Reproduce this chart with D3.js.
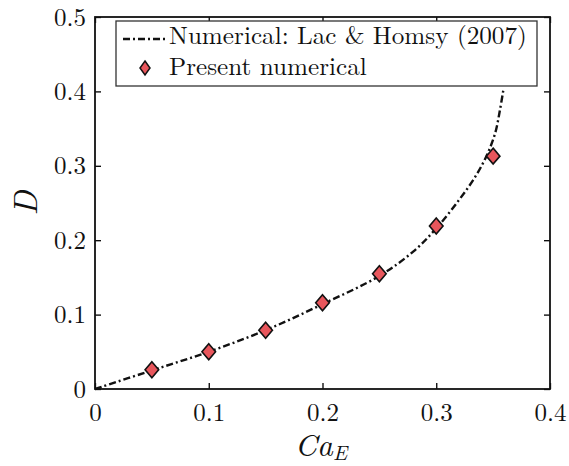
<!DOCTYPE html>
<html><head><meta charset="utf-8">
<script src="https://cdn.jsdelivr.net/npm/d3@7"></script>
<style>body{margin:0;background:#fff}svg{display:block}</style>
</head><body>
<svg id="c" width="569" height="466"></svg>
<script>
const xTicks = [0, 0.1, 0.2, 0.3, 0.4];
const yTicks = [0, 0.1, 0.2, 0.3, 0.4, 0.5];
const lineCa = [0, 0.05, 0.1, 0.15, 0.2, 0.25, 0.28, 0.3, 0.32, 0.335, 0.345, 0.352, 0.356, 0.359];
const lineD  = [0, 0.025, 0.05, 0.079, 0.114, 0.152, 0.185, 0.216, 0.254, 0.287, 0.316, 0.345, 0.375, 0.402];
const ptCa = [0.05, 0.1, 0.15, 0.2, 0.25, 0.3, 0.35];
const ptD  = [0.026, 0.05, 0.079, 0.116, 0.155, 0.219, 0.313];
const legendLabels = ["Numerical: Lac & Homsy (2007)", "Present numerical"];

const svg = d3.select("#c");
const L = 95, R = 550, T = 17, B = 389;
const x = d3.scaleLinear().domain([0, 0.4]).range([L, R]);
const y = d3.scaleLinear().domain([0, 0.5]).range([B, T]);
const font = "'Latin Modern Roman', 'Liberation Serif', serif";
const fmt = d => d === 0 ? "0" : d3.format(".1f")(d);

const ax = (g, axis) => { g.call(axis); g.select(".domain").remove(); g.selectAll("line").attr("stroke", "#000").attr("stroke-width", 1.3); g.selectAll("text").style("font-family", font).style("font-size", "25px").attr("fill", "#111"); };
svg.append("g").attr("transform", `translate(0,${B})`).call(g => ax(g, d3.axisBottom(x).tickValues(xTicks).tickFormat(fmt).tickSizeInner(-6).tickPadding(14)));
svg.append("g").attr("transform", `translate(${L},0)`).call(g => ax(g, d3.axisLeft(y).tickValues(yTicks).tickFormat(fmt).tickSizeInner(-6).tickPadding(9)));
svg.append("g").attr("transform", `translate(0,${T})`).call(g => { ax(g, d3.axisTop(x).tickValues(xTicks).tickFormat("").tickSizeInner(-6)); });
svg.append("g").attr("transform", `translate(${R},0)`).call(g => { ax(g, d3.axisRight(y).tickValues(yTicks).tickFormat("").tickSizeInner(-6)); });

svg.append("rect").attr("x", L).attr("y", T).attr("width", R - L).attr("height", B - T)
  .attr("fill", "none").attr("stroke", "#111").attr("stroke-width", 1.8);

const lineData = lineCa.map((c, i) => [c, lineD[i]]);
svg.append("path").datum(lineData)
  .attr("d", d3.line().x(d => x(d[0])).y(d => y(d[1])).curve(d3.curveCatmullRom.alpha(0.5)))
  .attr("fill", "none").attr("stroke", "#111").attr("stroke-width", 2.4)
  .attr("stroke-dasharray", "7,3,2,3");

const diamond = (w, h) => `M0,${-h}L${w},0L0,${h}L${-w},0Z`;
svg.append("g").selectAll("path").data(ptCa.map((c, i) => [c, ptD[i]])).join("path")
  .attr("transform", d => `translate(${x(d[0])},${y(d[1])})`)
  .attr("d", diamond(6.8, 8)).attr("fill", "#e8565c").attr("stroke", "#111").attr("stroke-width", 1.6);

const lg = svg.append("g");
lg.append("rect").attr("x", 116).attr("y", 21).attr("width", 421).attr("height", 65)
  .attr("fill", "#fff").attr("stroke", "#333").attr("stroke-width", 1.3);
lg.append("line").attr("x1", 123).attr("x2", 165).attr("y1", 39).attr("y2", 39)
  .attr("stroke", "#111").attr("stroke-width", 2.4).attr("stroke-dasharray", "7,3,2,3");
const t1 = lg.append("text").attr("x", 169).attr("y", 44).text(legendLabels[0])
  .style("font-family", font).style("font-size", "24px").attr("fill", "#111");
const w1 = t1.node().getComputedTextLength();
const fs = 24 * 358 / w1;
t1.style("font-size", fs + "px");
lg.append("path").attr("transform", "translate(145,68)").attr("d", diamond(5, 7))
  .attr("fill", "#e8565c").attr("stroke", "#111").attr("stroke-width", 1.5);
lg.append("text").attr("x", 169).attr("y", 75).text(legendLabels[1])
  .style("font-family", font).style("font-size", fs + "px").attr("fill", "#111");

svg.append("text").attr("transform", "translate(37,203) rotate(-90)").attr("text-anchor", "middle")
  .style("font-family", font).style("font-style", "italic").style("font-size", "33px").attr("fill", "#111").text("D");
const xt = svg.append("text").attr("x", 321).attr("y", 456).attr("text-anchor", "middle")
  .style("font-family", font).style("font-style", "italic").style("font-size", "31px").attr("fill", "#111");
xt.append("tspan").text("Ca");
xt.append("tspan").style("font-size", "21px").attr("dy", 4).text("E");
</script>
</body></html>
